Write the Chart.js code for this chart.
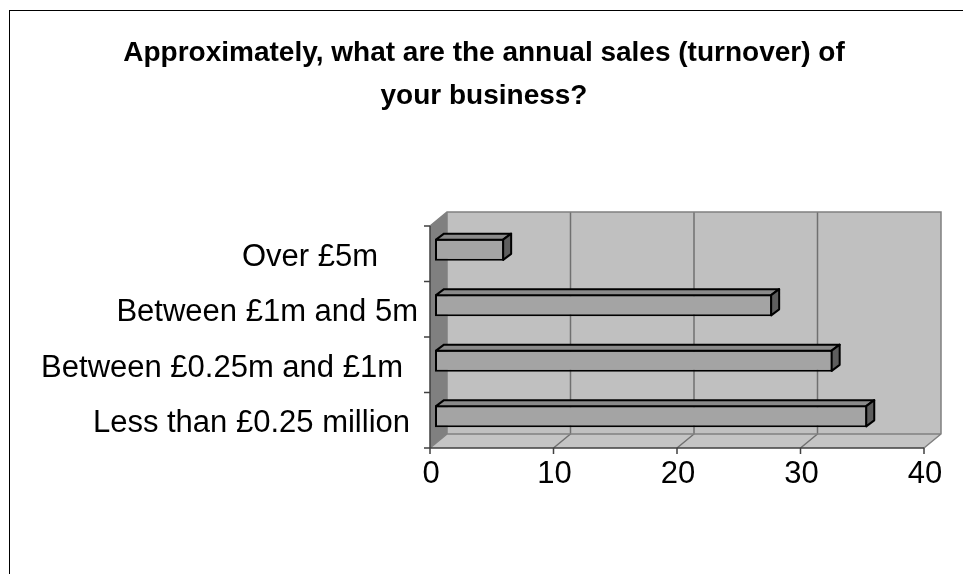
<!DOCTYPE html>
<html><head><meta charset="utf-8">
<script src="https://cdn.jsdelivr.net/npm/chart.js@4/dist/chart.umd.min.js"></script>
<style>html,body{margin:0;padding:0;background:#fff;}canvas{display:block;}</style>
</head><body>
<canvas id="c" width="963" height="574"></canvas>
<script>
const titleLines = ["Approximately, what are the annual sales (turnover) of", "your business?"];
const categories = ["Less than £0.25 million", "Between £0.25m and £1m", "Between £1m and 5m", "Over £5m"];
const values = [35.0, 32.2, 27.3, 5.6];
const xTicks = [0, 10, 20, 30, 40];

// layout / style constants
const labelRight = [410, 403, 418, 378];
const DEPTH = {x: 17, y: -14};
const BAR_DEPTH = {x: 8, y: -6};
const BAR_SHIFT = {x: 5, y: -4};
const FONT = "'Liberation Sans', Arial, sans-serif";

const chart3d = {
  id: 'chart3d',
  beforeDraw(chart) {
    const ctx = chart.ctx;
    ctx.save();
    ctx.fillStyle = '#fff';
    ctx.fillRect(0, 0, chart.width, chart.height);
    ctx.strokeStyle = '#000';
    ctx.lineWidth = 1;
    ctx.strokeRect(9.5, 10.5, 1200, 1200);
    ctx.fillStyle = '#000';
    ctx.font = 'bold 28px ' + FONT;
    ctx.textAlign = 'center';
    ctx.textBaseline = 'alphabetic';
    ctx.fillText(titleLines[0], 484, 61);
    ctx.fillText(titleLines[1], 484, 104);
    ctx.restore();
  },
  beforeDatasetsDraw(chart) {
    const ctx = chart.ctx;
    const xs = chart.scales.x, ys = chart.scales.y;
    const a = chart.chartArea;
    const L = xs.getPixelForValue(xTicks[0]);
    const R = xs.getPixelForValue(xTicks[xTicks.length - 1]);
    const T = a.top, B = a.bottom;
    const dx = DEPTH.x, dy = DEPTH.y;
    ctx.save();
    ctx.lineJoin = 'miter';
    // back wall
    ctx.fillStyle = '#c0c0c0';
    ctx.fillRect(L + dx, T + dy, R - L, B - T);
    // side wall
    ctx.fillStyle = '#808080';
    ctx.beginPath();
    ctx.moveTo(L, T); ctx.lineTo(L + dx, T + dy); ctx.lineTo(L + dx, B + dy); ctx.lineTo(L, B); ctx.closePath();
    ctx.fill();
    // floor
    ctx.fillStyle = '#c4c4c4';
    ctx.beginPath();
    ctx.moveTo(L, B); ctx.lineTo(L + dx, B + dy); ctx.lineTo(R + dx, B + dy); ctx.lineTo(R, B); ctx.closePath();
    ctx.fill();
    // gridlines
    ctx.strokeStyle = '#707070';
    ctx.lineWidth = 1.5;
    xTicks.slice(1, -1).forEach(v => {
      const x = xs.getPixelForValue(v);
      ctx.beginPath();
      ctx.moveTo(x + dx, T + dy); ctx.lineTo(x + dx, B + dy); ctx.lineTo(x, B);
      ctx.stroke();
    });
    // wall edges
    ctx.strokeStyle = '#808080';
    ctx.lineWidth = 1.5;
    ctx.beginPath();
    ctx.moveTo(L, T); ctx.lineTo(L + dx, T + dy); ctx.lineTo(R + dx, T + dy); ctx.lineTo(R + dx, B + dy); ctx.lineTo(R, B);
    ctx.moveTo(L + dx, T + dy); ctx.lineTo(L + dx, B + dy); ctx.lineTo(R + dx, B + dy);
    ctx.moveTo(L, B); ctx.lineTo(L + dx, B + dy);
    ctx.stroke();
    // axes
    ctx.strokeStyle = '#404040';
    ctx.lineWidth = 1.5;
    ctx.beginPath();
    ctx.moveTo(L, T); ctx.lineTo(L, B); ctx.lineTo(R, B);
    const n = categories.length;
    for (let i = 0; i <= n; i++) {
      const y = T + i * (B - T) / n;
      ctx.moveTo(L - 6, y); ctx.lineTo(L, y);
    }
    xTicks.forEach(v => {
      const x = xs.getPixelForValue(v);
      ctx.moveTo(x, B); ctx.lineTo(x, B + 6);
    });
    ctx.stroke();
    // tick labels
    ctx.fillStyle = '#000';
    ctx.font = '31px ' + FONT;
    ctx.textAlign = 'center';
    ctx.textBaseline = 'alphabetic';
    xTicks.forEach(v => ctx.fillText(String(v), xs.getPixelForValue(v) + 1, 483));
    ctx.textAlign = 'right';
    categories.forEach((c, i) => ctx.fillText(c, labelRight[i], ys.getPixelForValue(i) + 12));
    ctx.restore();
    // shift bars into their depth slot
    ctx.save();
    ctx.translate(BAR_SHIFT.x, BAR_SHIFT.y);
  },
  afterDatasetsDraw(chart) {
    const ctx = chart.ctx;
    const meta = chart.getDatasetMeta(0);
    const bx = BAR_DEPTH.x, by = BAR_DEPTH.y;
    meta.data.forEach(el => {
      const p = el.getProps(['x', 'y', 'base', 'height'], true);
      const t = p.y - p.height / 2 + 1, b = p.y + p.height / 2 - 1;
      const x0 = p.base + 1, x1 = p.x - 1;
      ctx.lineWidth = 2;
      ctx.strokeStyle = '#000';
      ctx.lineJoin = 'round';
      ctx.fillStyle = '#8a8a8a';
      ctx.beginPath();
      ctx.moveTo(x0, t); ctx.lineTo(x0 + bx, t + by); ctx.lineTo(x1 + bx, t + by); ctx.lineTo(x1, t); ctx.closePath();
      ctx.fill(); ctx.stroke();
      ctx.fillStyle = '#5e5e5e';
      ctx.beginPath();
      ctx.moveTo(x1, t); ctx.lineTo(x1 + bx, t + by); ctx.lineTo(x1 + bx, b + by); ctx.lineTo(x1, b); ctx.closePath();
      ctx.fill(); ctx.stroke();
    });
    ctx.restore();
  }
};

new Chart(document.getElementById('c'), {
  type: 'bar',
  data: {
    labels: categories,
    datasets: [{
      data: values,
      backgroundColor: '#a4a4a4',
      borderColor: '#000',
      borderWidth: 2,
      borderSkipped: false,
      barPercentage: 0.4,
      categoryPercentage: 1
    }]
  },
  options: {
    indexAxis: 'y',
    responsive: false,
    devicePixelRatio: 1,
    animation: false,
    layout: {padding: {left: 430, right: 39, top: 226, bottom: 126}},
    plugins: {legend: {display: false}, title: {display: false}, tooltip: {enabled: false}},
    scales: {
      x: {display: false, min: 0, max: 40},
      y: {display: false, reverse: true}
    }
  },
  plugins: [chart3d]
});
</script>
</body></html>
